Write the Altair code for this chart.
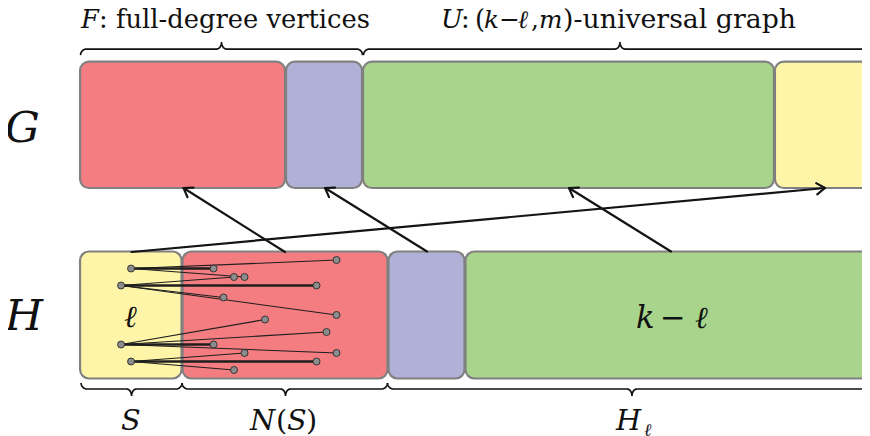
import math
import altair as alt
import pandas as pd

# ---------------- data ----------------
# G row blocks (left edge, right edge, colour)
g_left = [80, 286, 363, 775]
g_right = [285, 362, 774, 895]
g_fill = ["#F37D81", "#B1B0D6", "#A8D48C", "#FEF5A9"]
g_top, g_bottom = 59.5, 186

# H row blocks
h_left = [80, 182.5, 388.5, 465.5]
h_right = [181.5, 387.5, 464.5, 895]
h_fill = ["#FEF5A9", "#F37D81", "#B1B0D6", "#A8D48C"]
h_top, h_bottom = 249.5, 376.5

# vertices of S (left) and of N(S) (right)
s_x = [131, 121, 121, 131]
s_y = [266.5, 283.5, 342.5, 359.5]
n_x = [336.5, 213.5, 234, 244.5, 316.5, 223.5, 336.5, 265, 326.5, 213.5, 244.5, 336.5, 316.5, 234]
n_y = [258, 266.5, 275, 275, 283.5, 295.5, 313, 317.5, 330, 342.5, 351, 351, 359.5, 368]

# edges: (S vertex index, N vertex index, thick?)
edge_s = [0, 0, 0, 1, 1, 1, 1, 2, 2, 2, 2, 3, 3, 3]
edge_n = [1, 0, 3, 2, 4, 5, 6, 7, 8, 9, 11, 10, 12, 13]
edge_thick = [1, 0, 0, 0, 1, 0, 0, 0, 0, 1, 0, 0, 1, 0]

# arrows H -> G (tail x, tail y, head x, head y)
arr_x1 = [285, 427, 671, 131.5]
arr_y1 = [250, 249.5, 249.5, 250]
arr_x2 = [183.5, 325, 569, 825]
arr_y2 = [186, 186, 186, 186]

# braces (left end, right end, centre)
top_brace = [(80.5, 362.5, 221.5), (363.5, 900, 620)]
bot_brace = [(81, 182, 131.5), (182, 387.5, 285.5), (387.5, 900, 632)]

# ---------------- helpers ----------------
W, H = 862, 428
S_FIT = 870 / (W + 16)          # page is shrunk to the 870 px window
D0 = 8 * S_FIT
XS = alt.Scale(domain=[D0, D0 + W * S_FIT], nice=False, zero=False)
YS = alt.Scale(domain=[D0, D0 + H * S_FIT], nice=False, zero=False, reverse=True)


def X(f):
    return alt.X(f"{f}:Q", scale=XS, axis=None)


def Y(f):
    return alt.Y(f"{f}:Q", scale=YS, axis=None)


def brace_pts(x0, x1, xc, y_tip, y_flat, y_peak, r=6, rc=5, n=8):
    pts = []
    for k in range(n + 1):
        t = k / n * math.pi / 2
        pts.append((x0 + r * (1 - math.cos(t)), y_tip + (y_flat - y_tip) * math.sin(t)))
    for k in range(n + 1):
        t = k / n * math.pi / 2
        pts.append((xc - rc + rc * math.sin(t), y_flat + (y_peak - y_flat) * (1 - math.cos(t))))
    for k in range(n + 1):
        t = k / n * math.pi / 2
        pts.append((xc + rc - rc * math.cos(t), y_peak + (y_flat - y_peak) * math.sin(t)))
    for k in range(n + 1):
        t = k / n * math.pi / 2
        pts.append((x1 - r + r * math.sin(t), y_flat + (y_tip - y_flat) * (1 - math.cos(t))))
    return pts


# ---------------- tables ----------------
boxes = pd.DataFrame({
    "x0": g_left + h_left,
    "x1": g_right + h_right,
    "y0": [g_top] * 4 + [h_top] * 4,
    "y1": [g_bottom] * 4 + [h_bottom] * 4,
    "fill": g_fill + h_fill,
})

edges = pd.DataFrame({
    "x": [s_x[i] for i in edge_s],
    "y": [s_y[i] for i in edge_s],
    "x2": [n_x[j] for j in edge_n],
    "y2": [n_y[j] for j in edge_n],
    "w": [2.6 if t else 1.1 for t in edge_thick],
})

verts = pd.DataFrame({"x": s_x + n_x, "y": s_y + n_y})

arrow_rows = []
for x1, y1, x2, y2 in zip(arr_x1, arr_y1, arr_x2, arr_y2):
    arrow_rows.append({"x": x1, "y": y1, "x2": x2, "y2": y2})
    ang = math.atan2(y1 - y2, x1 - x2)
    for d in (-0.6, 0.6):
        arrow_rows.append({"x": x2, "y": y2,
                           "x2": x2 + 10 * math.cos(ang + d),
                           "y2": y2 + 10 * math.sin(ang + d)})
arrows = pd.DataFrame(arrow_rows)

brace_rows = []
bid = 0
for (a, b, c) in top_brace:
    for i, (px, py) in enumerate(brace_pts(a, b, c, 53, 47, 40)):
        brace_rows.append({"id": bid, "i": i, "x": px, "y": py})
    bid += 1
for (a, b, c) in bot_brace:
    for i, (px, py) in enumerate(brace_pts(a, b, c, 381, 387, 394)):
        brace_rows.append({"id": bid, "i": i, "x": px, "y": py})
    bid += 1
braces = pd.DataFrame(brace_rows)

# text segments: (text, left x, baseline y, size)
italic_txt = [
    ("F", 81, 26, 26), ("U", 441, 26, 26), ("k", 484, 26, 25), ("ℓ", 518, 26, 25),
    ("m", 539, 26, 25),
    ("G", 5, 140, 44), ("H", 5, 328, 44),
    ("ℓ", 124, 325, 31), ("k", 636, 326, 31), ("ℓ", 695, 326, 31),
    ("S", 121, 428, 29), ("N", 250, 428, 29), ("S", 287, 428, 29),
    ("H", 616, 428, 29), ("ℓ", 644, 434, 18),
]
upright_txt = [
    (": full-degree vertices", 99, 26, 26),
    (":", 461, 26, 26), ("(", 475, 26, 26), ("−", 499, 26, 25), (",", 531, 26, 25),
    (")-universal graph", 563, 26, 27),
    ("−", 660, 326, 31),
    ("(", 276, 428, 29), (")", 306, 428, 29),
]


def txt_df(rows):
    return pd.DataFrame({"t": [r[0] for r in rows], "x": [r[1] for r in rows],
                         "y": [r[2] for r in rows], "s": [r[3] for r in rows]})


FONT = "DejaVu Serif"

# ---------------- layers ----------------
box_layer = alt.Chart(boxes).mark_rect(
    cornerRadius=9, stroke="#808080", strokeWidth=2.2
).encode(x=X("x0"), x2="x1", y=Y("y0"), y2="y1", fill=alt.Fill("fill:N", scale=None))

edge_layer = alt.Chart(edges).mark_rule(color="#1e1e1e").encode(
    x=X("x"), y=Y("y"), x2="x2", y2="y2", strokeWidth=alt.StrokeWidth("w:Q", scale=None)
)

vert_layer = alt.Chart(verts).mark_point(
    filled=True, size=50, fill="#8c8c8c", stroke="#2a2a2a", strokeWidth=0.9, opacity=1
).encode(x=X("x"), y=Y("y"))

arrow_layer = alt.Chart(arrows).mark_rule(color="#141414", strokeWidth=2.2, strokeCap="round").encode(
    x=X("x"), y=Y("y"), x2="x2", y2="y2"
)

brace_layer = alt.Chart(braces).mark_line(color="#111111", strokeWidth=1.7).encode(
    x=X("x"), y=Y("y"), detail="id:N", order="i:Q"
)

it_layer = alt.Chart(txt_df(italic_txt)).mark_text(
    font=FONT, fontStyle="italic", align="left", baseline="alphabetic", color="#111111"
).encode(x=X("x"), y=Y("y"), text="t:N", size=alt.Size("s:Q", scale=None))

up_layer = alt.Chart(txt_df(upright_txt)).mark_text(
    font=FONT, align="left", baseline="alphabetic", color="#111111"
).encode(x=X("x"), y=Y("y"), text="t:N", size=alt.Size("s:Q", scale=None))

chart = alt.layer(
    box_layer, edge_layer, vert_layer, arrow_layer, brace_layer, it_layer, up_layer
).properties(
    width=W, height=H, padding=0, autosize="none", background="white"
).configure_view(stroke=None)

chart.save("out.html", embed_options={"renderer": "svg", "actions": False})
